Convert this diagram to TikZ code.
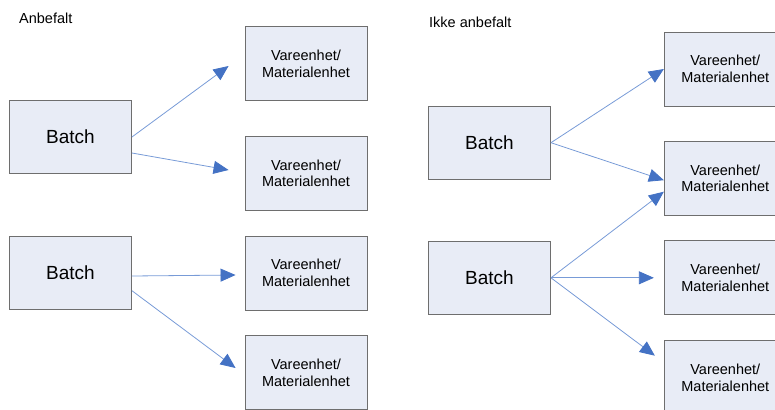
\documentclass[tikz,border=0pt]{standalone}
\usepackage{fontspec}
\setmainfont{Liberation Sans}
\usetikzlibrary{arrows.meta,calc}
\definecolor{boxfill}{RGB}{232,236,246}
\definecolor{boxdraw}{RGB}{110,110,110}
\definecolor{lineblue}{RGB}{120,155,215}
\definecolor{headblue}{RGB}{68,114,196}
\tikzset{
  batchbox/.style={draw=boxdraw, fill=boxfill, line width=0.9pt, minimum width=122pt, minimum height=73pt, inner sep=0pt, font=\fontsize{19}{22}\selectfont},
  unitbox/.style={draw=boxdraw, fill=boxfill, line width=0.9pt, minimum width=122pt, minimum height=74pt, inner sep=0pt, align=center, font=\fontsize{14.5}{16.5}\selectfont},
  conn/.style={draw=lineblue, line width=0.8pt, -{Triangle[length=15pt,width=13pt,color=headblue,fill=headblue]}},
  heading/.style={anchor=base west, inner sep=0pt, font=\fontsize{14.5}{16}\selectfont}
}
\begin{document}
\begin{tikzpicture}[x=1pt,y=-1pt]
\useasboundingbox (0,0) rectangle (775,409);
\clip (0,0) rectangle (775,409);
% headings
\node[heading] (h1) at (19,24) {Anbefalt};
\node[heading] (h2) at (429,28) {Ikke anbefalt};
% left side
\node[batchbox] (b1) at (70.5,137) {Batch};
\node[batchbox] (b2) at (70.5,273) {Batch};
\node[unitbox] (v1) at (306,63.7) {Vareenhet/\\Materialenhet};
\node[unitbox] (v2) at (306,173.4) {Vareenhet/\\Materialenhet};
\node[unitbox] (v3) at (306,273) {Vareenhet/\\Materialenhet};
\node[unitbox] (v4) at (306,372.7) {Vareenhet/\\Materialenhet};
% right side
\node[batchbox] (b3) at (489.5,142.7) {Batch};
\node[batchbox] (b4) at (489.5,277.8) {Batch};
\node[unitbox] (w1) at (725.3,69) {Vareenhet/\\Materialenhet};
\node[unitbox] (w2) at (725.3,178.2) {Vareenhet/\\Materialenhet};
\node[unitbox] (w3) at (725.3,277.8) {Vareenhet/\\Materialenhet};
\node[unitbox] (w4) at (725.3,377.7) {Vareenhet/\\Materialenhet};
% left connectors
\draw[conn] (b1.east) -- ($(v1.west)+(-16,2.3)$);
\draw[conn] ($(b1.east)+(0,16)$) -- ($(v2.west)+(-16,-3.4)$);
\draw[conn] ($(b2.east)+(0,3)$) -- ($(v3.west)+(-9,2)$);
\draw[conn] ($(b2.east)+(0,17.7)$) -- ($(v4.west)+(-9,-4.7)$);
% right connectors
\draw[conn] (b3.east) -- (w1.west);
\draw[conn] (b3.east) -- ($(w2.west)+(0,2)$);
\draw[conn] (b4.east) -- ($(w2.west)+(0,13.5)$);
\draw[conn] (b4.east) -- ($(w3.west)+(-10,0)$);
\draw[conn] (b4.east) -- ($(w4.west)+(-9,-22)$);
\end{tikzpicture}
\end{document}
